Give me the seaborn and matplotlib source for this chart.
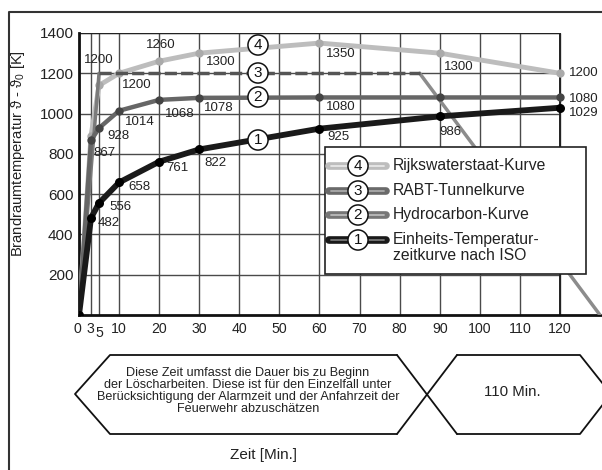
import numpy as np
import pandas as pd
import matplotlib
matplotlib.use("Agg")
import matplotlib.pyplot as plt
import matplotlib.transforms as mtransforms
from matplotlib.patches import Polygon, Rectangle
from matplotlib.lines import Line2D
import seaborn as sns

# ---------------- data ----------------
t_iso = [0, 3, 5, 10, 20, 30, 60, 90, 120]
v_iso = [0, 482, 556, 658, 761, 822, 925, 986, 1029]

t_hc = [0, 3, 5, 10, 20, 30, 60, 90, 120]
v_hc = [0, 867, 928, 1014, 1068, 1078, 1080, 1080, 1080]

t_rabt = [0, 5, 85, 130]
v_rabt = [0, 1200, 1200, 0]

t_rws = [0, 3, 5, 10, 20, 30, 60, 90, 120]
v_rws = [0, 890, 1140, 1200, 1260, 1300, 1350, 1300, 1200]

x_ticks = [0, 3, 5, 10, 20, 30, 40, 50, 60, 70, 80, 90, 100, 110, 120]
y_ticks = [200, 400, 600, 800, 1000, 1200, 1400]

legend_labels = ["Rijkswaterstaat-Kurve", "RABT-Tunnelkurve", "Hydrocarbon-Kurve",
                 "Einheits-Temperatur-\nzeitkurve nach ISO"]
legend_nums = ["4", "3", "2", "1"]

y_label = "Brandraumtemperatur ϑ - ϑ$_0$ [K]"
x_label = "Zeit [Min.]"
box_left_text = ("Diese Zeit umfasst die Dauer bis zu Beginn\n"
                 "der Löscharbeiten. Diese ist für den Einzelfall unter\n"
                 "Berücksichtigung der Alarmzeit und der Anfahrzeit der\n"
                 "Feuerwehr abzuschätzen")
box_right_text = "110 Min."

# ---------------- style / layout ----------------
sns.set_theme(style="white")
plt.rcParams['font.family'] = ['Liberation Sans', 'DejaVu Sans']
plt.rcParams['mathtext.fontset'] = 'custom'
plt.rcParams['mathtext.rm'] = 'Liberation Sans'
plt.rcParams['mathtext.it'] = 'Liberation Sans'

W, H = 602, 470
fig = plt.figure(figsize=(W / 100, H / 100), dpi=100)
fig.patch.set_facecolor("white")
PX = mtransforms.Affine2D().scale(1 / W, -1 / H).translate(0, 1) + fig.transFigure

ax_l, ax_t, ax_b = 79, 33, 315
ax = fig.add_axes([ax_l / W, 1 - ax_b / H, 1 - ax_l / W, (ax_b - ax_t) / H])
ax.set_xlim(0, 130.5)
ax.set_ylim(0, 1400)
ax.set_facecolor("white")

# grid
ax.vlines(x_ticks, 0, 1400, color="#4a4a4a", lw=1.0, zorder=0.5)
ax.hlines(y_ticks, 0, 120, color="#4a4a4a", lw=1.0, zorder=0.5)
ax.vlines([120], 0, 1400, color="#222", lw=1.4, zorder=0.6)
ax.hlines([1400], 0, 120, color="#222", lw=1.6, zorder=0.6)

for s in ["top", "right"]:
    ax.spines[s].set_visible(False)
for s in ["left", "bottom"]:
    ax.spines[s].set_color("#111")
    ax.spines[s].set_linewidth(2.0)

# ---------------- curves ----------------
c_iso, c_hc, c_rabt, c_rws = "#1a1a1a", "#666666", "#555555", "#bdbdbd"

df_rws = pd.DataFrame({"t": t_rws, "v": v_rws})
sns.lineplot(data=df_rws, x="t", y="v", ax=ax, color=c_rws, lw=3.5, marker="o",
             markersize=6, markeredgewidth=0, markerfacecolor="#aaaaaa", zorder=3)

df_rabt = pd.DataFrame({"t": t_rabt, "v": v_rabt})
sns.lineplot(data=df_rabt.iloc[0:2], x="t", y="v", ax=ax, color="#7a7a7a", lw=2.5, zorder=3.2)
sns.lineplot(data=df_rabt.iloc[1:3], x="t", y="v", ax=ax, color=c_rabt, lw=2.5,
             linestyle=(0, (3.5, 1.2)), zorder=3.3)
sns.lineplot(data=df_rabt.iloc[2:4], x="t", y="v", ax=ax, color="#8c8c8c", lw=2.5, zorder=3.2)

df_hc = pd.DataFrame({"t": t_hc, "v": v_hc})
sns.lineplot(data=df_hc, x="t", y="v", ax=ax, color=c_hc, lw=3.2, marker="o",
             markersize=6, markeredgewidth=0, markerfacecolor="#444444", zorder=3.5)

df_iso = pd.DataFrame({"t": t_iso, "v": v_iso})
sns.lineplot(data=df_iso, x="t", y="v", ax=ax, color=c_iso, lw=4.2, marker="o",
             markersize=6.5, markeredgewidth=0, markerfacecolor="#000000", zorder=4)

ax.set_xlim(0, 130.5)
ax.set_ylim(0, 1400)
ax.set_xticks(x_ticks)
ax.set_xticklabels([str(v) for v in x_ticks], fontsize=10.2, color="#222")
ax.set_yticks(y_ticks)
ax.set_yticklabels([str(v) for v in y_ticks], fontsize=11, color="#222")
ax.tick_params(axis="both", length=0)
ax.tick_params(axis="x", pad=5)
ax.tick_params(axis="y", pad=4)
for lab in ax.get_xticklabels():
    if lab.get_text() == "5":
        lab.set_transform(lab.get_transform() + mtransforms.ScaledTranslation(0.5 / 72, -3 / 72, fig.dpi_scale_trans))
    if lab.get_text() == "3":
        lab.set_transform(lab.get_transform() + mtransforms.ScaledTranslation(-0.5 / 72, 0, fig.dpi_scale_trans))
    if lab.get_text() == "0":
        lab.set_transform(lab.get_transform() + mtransforms.ScaledTranslation(-1.5 / 72, 0, fig.dpi_scale_trans))

ax.set_xlabel("")
ax.set_ylabel(y_label, fontsize=10.6, color="#222")
ax.yaxis.set_label_coords(-(ax_l - 27) / (W - ax_l), (315 - 154) / (ax_b - ax_t))

# ---------------- value labels (offsets in pixels) ----------------
lab_fs = 9.5
off_iso = [None, (18, -5), (21, -4), (20, -4.5), (18, -6), (16, -14), (19, -8), (11, -16), (24, -5)]
off_hc = [None, (13, -13), (19, -8), (21, -11), (21, -14), (20, -10), (21, -10), None, (24, -1.5)]
off_rabt = [None, (0, 13), None, None]
off_rws = [None, None, None, (18, -12), (2, 16), (22, -9), (21, -11), (19, -14), (24, 0)]

for ts, vs, offs in [(t_iso, v_iso, off_iso), (t_hc, v_hc, off_hc),
                     (t_rabt, v_rabt, off_rabt), (t_rws, v_rws, off_rws)]:
    for t, v, o in zip(ts, vs, offs):
        if o is None:
            continue
        ax.annotate(str(v), (t, v), xytext=o, textcoords="offset pixels",
                    ha="center", va="center", fontsize=lab_fs, color="#222",
                    annotation_clip=False, zorder=6)

# circled curve numbers
for num, (cx, cy) in zip(["4", "3", "2", "1"], [(258, 45), (258, 73), (258, 97), (258, 140)]):
    fig.text(cx / W, 1 - cy / H, num, ha="center", va="center", fontsize=11, color="#111",
             zorder=10, bbox=dict(boxstyle="circle,pad=0.2", fc="white", ec="#111", lw=1.1))

# ---------------- legend box ----------------
fig.add_artist(Rectangle((325, 147), 261, 127, transform=PX, fc="white", ec="#222", lw=1.2, zorder=8))
leg_y = [166, 191, 215, 240]
leg_cols = [(c_rws, "#e8e8e8"), ("#6a6a6a", "#aaaaaa"), ("#777777", "#bbbbbb"), ("#1a1a1a", "#777777")]
for y, (co, ci), num, lab in zip(leg_y, leg_cols, legend_nums, legend_labels):
    fig.add_artist(Line2D([329, 386], [y, y], transform=PX, color=co, lw=5.5, zorder=9,
                          solid_capstyle="round"))
    fig.add_artist(Line2D([331, 384], [y, y], transform=PX, color=ci, lw=1.3, zorder=9.1))
    fig.text(358 / W, 1 - y / H, num, ha="center", va="center", fontsize=11, color="#111",
             zorder=10, bbox=dict(boxstyle="circle,pad=0.2", fc="white", ec="#111", lw=1.1))
    fig.text(393 / W, 1 - (y - 8) / H, lab, ha="left", va="top", fontsize=11.3, color="#222",
             zorder=10, linespacing=1.05)

# ---------------- bottom shapes ----------------
lw_b = 1.3
segs = [
    [(397, 355), (110, 355), (75, 394), (110, 434), (397, 434)],
    [(397, 355), (457, 434)],
    [(397, 434), (457, 355)],
    [(457, 355), (580, 355), (611, 394), (580, 434), (457, 434)],
]
for seg in segs:
    xs, ys = zip(*seg)
    fig.add_artist(Line2D(xs, ys, transform=PX, color="#111", lw=lw_b, zorder=5))
fig.text(248 / W, 1 - 391 / H, box_left_text, ha="center", va="center", fontsize=9.1,
         color="#222", linespacing=1.0)
fig.text(512 / W, 1 - 392 / H, box_right_text, ha="center", va="center", fontsize=10.8,
         color="#222")
fig.text(263 / W, 1 - 455 / H, x_label, ha="center", va="center", fontsize=11, color="#222")

# outer frame
fig.add_artist(Line2D([9, 9, 610], [480, 12, 12], transform=PX, color="#333", lw=1.5, zorder=5))

fig.savefig("out.png", dpi=100)
